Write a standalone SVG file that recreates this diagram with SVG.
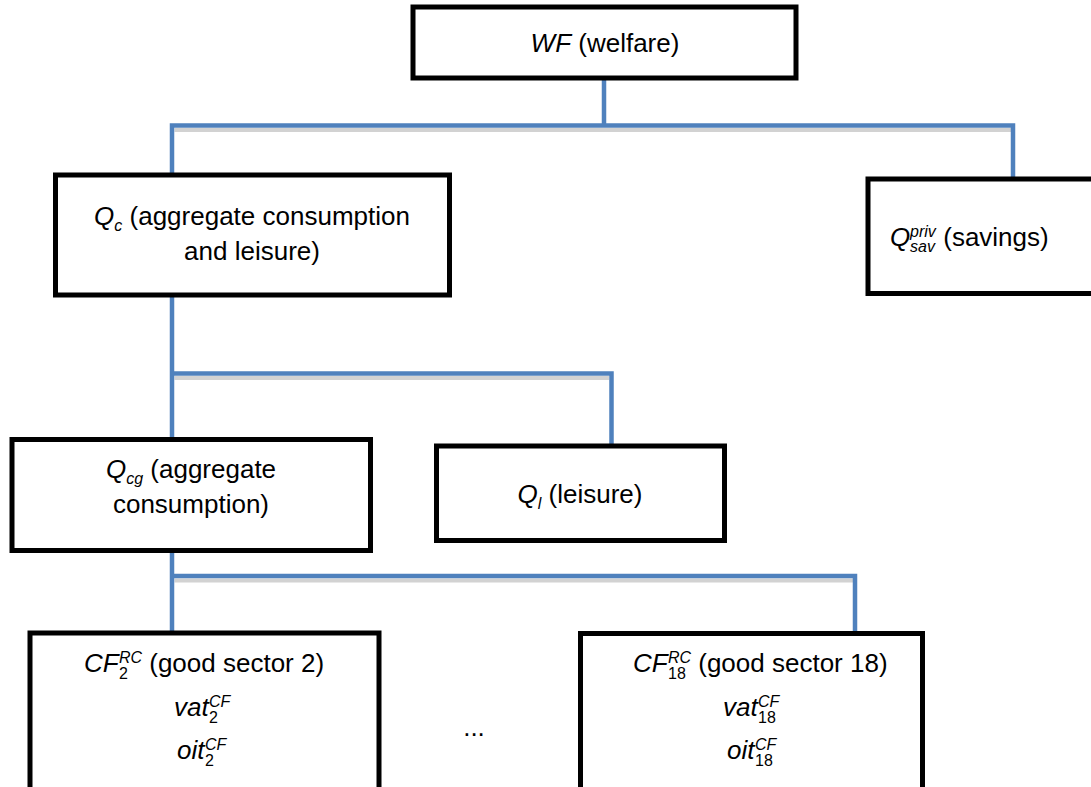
<svg xmlns="http://www.w3.org/2000/svg" width="1091" height="787" viewBox="0 0 1091 787">
<style>
text{font-family:"Liberation Sans",Arial,sans-serif;font-size:26px;fill:#000}
.m{text-anchor:middle}
.i{font-style:italic}
.s{font-size:16px;font-style:italic}
.d{font-size:16px;font-style:normal}
.box{fill:#fff;stroke:#000;stroke-width:5}
.ln{fill:none;stroke:#4F81BD;stroke-width:4.5;stroke-linejoin:miter;stroke-linecap:butt}
.sh{fill:none;stroke:#d2d2d2;stroke-width:4}
</style>
<rect width="1091" height="787" fill="#fff"/>
<g id="connectors">
<path class="sh" d="M174.5,130 H1011 M174.5,378 H609 M174.5,580.5 H853"/>
<path class="ln" d="M604,79 V125.5 M172,177 V125.5 H1013 V180 M172,296 V441 M172,373.5 H611.5 V447 M172,552 V634 M172,576 H855 V635"/>
</g>
<g id="wf">
<rect class="box" x="413" y="7" width="383" height="71"/>
<text class="m" x="605" y="52"><tspan class="i">WF</tspan> (welfare)</text>
</g>
<g id="qc">
<rect class="box" x="55.5" y="175" width="394" height="120"/>
<text class="m" x="252" y="225"><tspan class="i">Q</tspan><tspan class="s" dy="6">c</tspan><tspan dy="-6"> (aggregate consumption</tspan></text>
<text class="m" x="252" y="260">and leisure)</text>
</g>
<g id="qsav">
<rect class="box" x="868" y="179" width="240" height="114.5"/>
<text x="890" y="246"><tspan class="i">Q</tspan><tspan class="s" x="910" y="237">priv</tspan><tspan class="s" x="910" y="252">sav</tspan><tspan x="936" y="246"> (savings)</tspan></text>
</g>
<g id="qcg">
<rect class="box" x="12" y="439.5" width="358.5" height="111"/>
<text class="m" x="191" y="478"><tspan class="i">Q</tspan><tspan class="s" dy="6">cg</tspan><tspan dy="-6"> (aggregate</tspan></text>
<text class="m" x="191" y="513">consumption)</text>
</g>
<g id="ql">
<rect class="box" x="436.5" y="446" width="288" height="94.5"/>
<text class="m" x="580" y="503"><tspan class="i">Q</tspan><tspan class="s" dy="6">l</tspan><tspan dy="-6"> (leisure)</tspan></text>
</g>
<g id="cf2">
<rect class="box" x="30" y="633" width="349" height="200"/>
<text x="84" y="672"><tspan class="i">CF</tspan><tspan class="s" x="119" y="663">RC</tspan><tspan class="d" x="119" y="679">2</tspan><tspan x="142" y="672"> (good sector 2)</tspan></text>
<text x="174" y="716"><tspan class="i">vat</tspan><tspan class="s" x="209" y="707">CF</tspan><tspan class="d" x="209" y="723">2</tspan></text>
<text x="177" y="759"><tspan class="i">oit</tspan><tspan class="s" x="205" y="750">CF</tspan><tspan class="d" x="205" y="766">2</tspan></text>
</g>
<g id="cf18">
<rect class="box" x="580.5" y="633.5" width="342" height="200"/>
<text x="633" y="672"><tspan class="i">CF</tspan><tspan class="s" x="668" y="663">RC</tspan><tspan class="d" x="668" y="679">18</tspan><tspan x="691" y="672"> (good sector 18)</tspan></text>
<text x="723" y="716"><tspan class="i">vat</tspan><tspan class="s" x="758" y="707">CF</tspan><tspan class="d" x="758" y="723">18</tspan></text>
<text x="727" y="759"><tspan class="i">oit</tspan><tspan class="s" x="755" y="750">CF</tspan><tspan class="d" x="755" y="766">18</tspan></text>
</g>
<text class="m" x="474" y="736">...</text>
</svg>
